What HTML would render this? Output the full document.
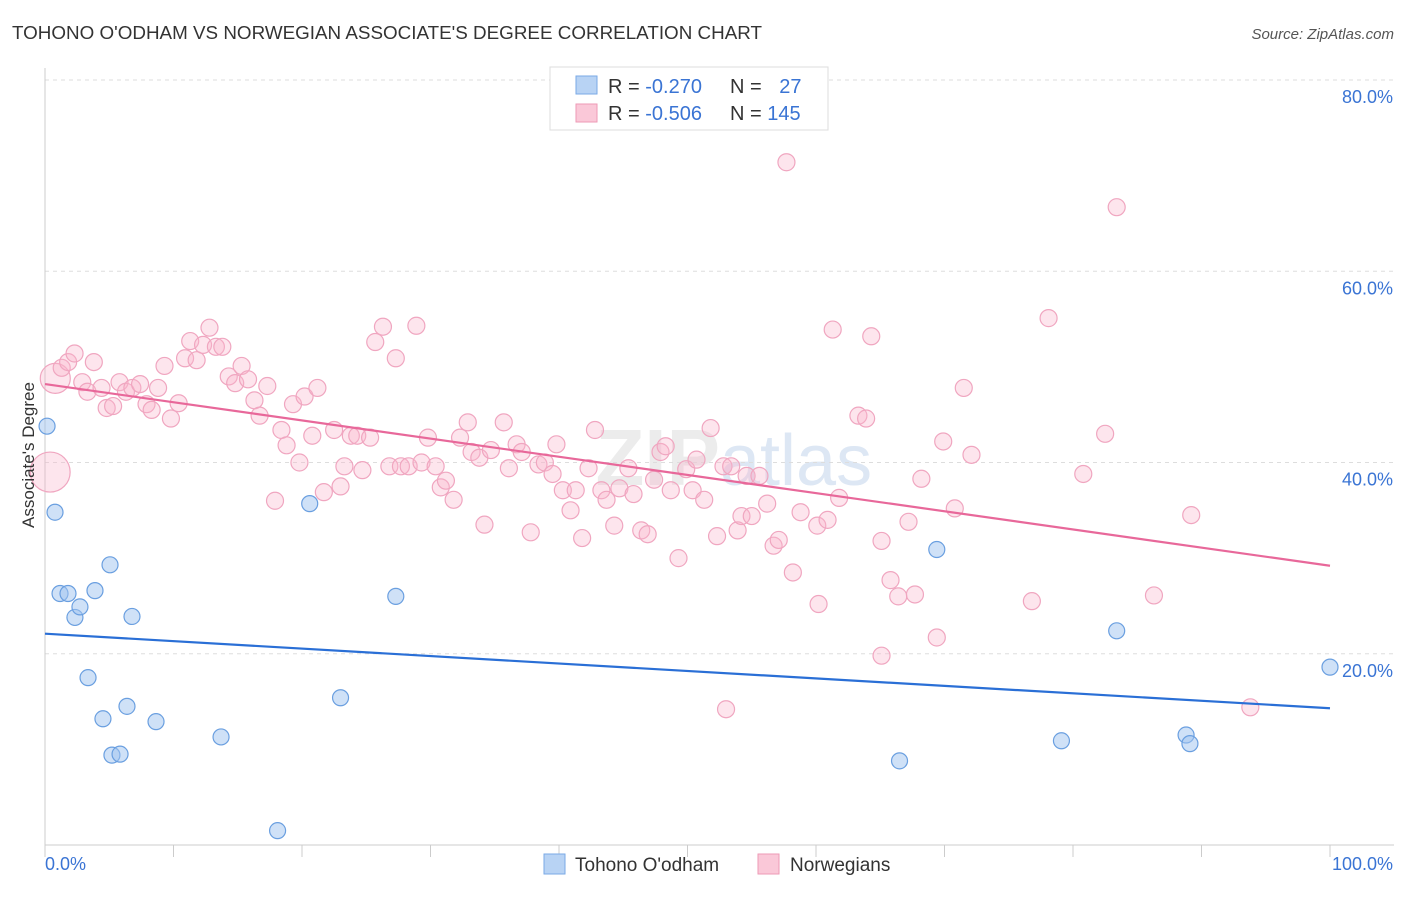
<!DOCTYPE html>
<html><head><meta charset="utf-8"><style>
body{margin:0;background:#fff;font-family:"Liberation Sans",sans-serif;}
svg text{font-family:"Liberation Sans",sans-serif;}
</style></head><body>
<svg id="chart" width="1406" height="892">
<text x="12" y="39" font-size="18" fill="#333" textLength="750" lengthAdjust="spacingAndGlyphs">TOHONO O'ODHAM VS NORWEGIAN ASSOCIATE'S DEGREE CORRELATION CHART</text>
<text x="1394" y="39" font-size="15" fill="#555" font-style="italic" text-anchor="end">Source: ZipAtlas.com</text>
<text x="720" y="485" font-size="80" font-weight="bold" fill="#ececec" text-anchor="end">ZIP</text>
<text x="720" y="485" font-size="72" fill="#dde7f4">atlas</text>
<g id="grid"></g>
<g id="axes"></g>
<g id="pts"></g>
<g id="lines"></g>
<text transform="translate(34,455) rotate(-90)" font-size="17" fill="#333" text-anchor="middle">Associate's Degree</text>
<g>
<rect x="550" y="67" width="278" height="63" fill="#fff" stroke="#ddd"/>
<rect x="576" y="76" width="21" height="18" fill="#b8d3f4" stroke="#7aaae6"/>
<rect x="576" y="104" width="21" height="18" fill="#fac8d8" stroke="#ee9ab6"/>
<text x="608" y="93" font-size="20" fill="#333">R = <tspan fill="#3a74d4">-0.270</tspan></text>
<text x="730" y="93" font-size="20" fill="#333">N = <tspan fill="#3a74d4" dx="12">27</tspan></text>
<text x="608" y="120" font-size="20" fill="#333">R = <tspan fill="#3a74d4">-0.506</tspan></text>
<text x="730" y="120" font-size="20" fill="#333">N = <tspan fill="#3a74d4">145</tspan></text>
</g>
<g>
<rect x="544" y="854" width="21" height="20" fill="#b8d3f4" stroke="#7aaae6"/>
<text x="575" y="871" font-size="19" fill="#333">Tohono O'odham</text>
<rect x="758" y="854" width="21" height="20" fill="#fac8d8" stroke="#ee9ab6"/>
<text x="790" y="871" font-size="19" fill="#333">Norwegians</text>
</g>
</svg>
<script>
const yTicks=[20,40,60,80];
const yTickLabels=["20.0%","40.0%","60.0%","80.0%"];
const xTickLabels=["0.0%","100.0%"];
const blueX=[0.16,0.78,1.17,1.79,2.33,2.72,3.89,5.06,6.77,3.35,4.51,6.38,8.64,5.21,5.84,13.7,20.6,23.0,27.3,18.1,69.4,66.5,79.1,83.4,88.8,89.1,100];
const blueY=[43.8,34.8,26.3,26.3,23.8,24.9,26.6,29.3,23.9,17.5,13.2,14.5,12.9,9.4,9.5,11.3,35.7,15.4,26.0,1.5,30.9,8.8,10.9,22.4,11.5,10.6,18.6];
const pinkX=[0.4,0.8,1.3,1.8,2.3,2.9,3.3,3.8,4.4,4.8,5.3,5.8,6.3,6.8,7.4,7.9,8.3,8.8,9.3,9.8,10.4,10.9,11.3,11.8,12.3,12.8,13.3,13.8,14.3,14.8,15.3,15.8,16.3,16.7,17.3,17.9,18.4,18.8,19.3,19.8,20.2,20.8,21.2,21.7,22.5,23.0,23.3,23.8,24.3,24.7,25.3,25.7,26.3,26.8,27.3,27.7,28.3,28.9,29.3,29.8,30.4,30.8,31.2,31.8,32.3,32.9,33.2,33.8,34.2,34.7,35.7,36.1,36.7,37.1,37.8,38.4,38.9,39.5,39.8,40.3,40.9,41.3,41.8,42.3,42.8,43.3,43.7,44.3,44.7,45.4,45.8,46.4,46.9,47.4,47.9,48.3,48.7,49.3,49.9,50.4,50.7,51.3,51.8,52.3,52.8,53.4,53.9,54.2,54.6,55.0,55.6,56.2,56.7,57.1,57.7,58.2,58.8,60.2,60.1,60.9,61.8,61.3,63.3,63.9,64.3,65.1,65.1,65.8,66.4,67.2,67.7,68.2,69.4,69.9,70.8,71.5,72.1,53.0,78.1,76.8,80.8,82.5,83.4,86.3,89.2,93.8];
const pinkY=[39.0,48.8,49.9,50.5,51.4,48.4,47.4,50.5,47.8,45.7,45.9,48.4,47.4,47.8,48.2,46.1,45.5,47.8,50.1,44.6,46.2,50.9,52.7,50.7,52.3,54.1,52.1,52.1,49.0,48.3,50.1,48.7,46.5,44.9,48.0,36.0,43.4,41.8,46.1,40.0,46.9,42.8,47.8,36.9,43.4,37.5,39.6,42.8,42.8,39.2,42.6,52.6,54.2,39.6,50.9,39.6,39.6,54.3,40.0,42.6,39.6,37.4,38.1,36.1,42.6,44.2,41.1,40.5,33.5,41.3,44.2,39.4,41.9,41.1,32.7,39.8,40.0,38.8,41.9,37.1,35.0,37.1,32.1,39.4,43.4,37.1,36.1,33.4,37.3,39.4,36.7,32.9,32.5,38.2,41.1,41.7,37.1,30.0,39.3,37.1,40.3,36.1,43.6,32.3,39.6,39.6,32.9,34.4,38.6,34.4,38.6,35.7,31.3,31.9,71.4,28.5,34.8,25.2,33.4,34.0,36.3,53.9,44.9,44.6,53.2,19.8,31.8,27.7,26.0,33.8,26.2,38.3,21.7,42.2,35.2,47.8,40.8,14.2,55.1,25.5,38.8,43.0,66.7,26.1,34.5,14.4];
const blueTrend=[22.1,14.3];
const pinkTrend=[48.2,29.2];

const NS="http://www.w3.org/2000/svg";
const X0=45,X1=1330,Y0=845,Y80=80;
const sx=v=>X0+(X1-X0)*v/100;
const sy=v=>Y0-(Y0-Y80)*v/80;
function mk(tag,attrs,parent){const e=document.createElementNS(NS,tag);for(const k in attrs)e.setAttribute(k,attrs[k]);document.getElementById(parent).appendChild(e);return e;}

yTicks.forEach((t,i)=>{
  const g=mk('line',{x1:X0,x2:1394,y1:sy(t),y2:sy(t),stroke:'#ddd','stroke-dasharray':'4,4'},'grid');
  
  
  const l=mk('text',{x:1393,y:sy(t)+23,'font-size':18,fill:'#3a74d4','text-anchor':'end'},'grid');
  l.textContent=yTickLabels[i];
  
  
});
const ax=mk('line',{x1:X0,x2:1394,y1:Y0,y2:Y0,stroke:'#ccc'},'axes');


const ay=mk('line',{x1:X0,x2:X0,y1:68,y2:Y0,stroke:'#ccc'},'axes');


for(let i=0;i<=10;i++){
  const t=mk('line',{x1:sx(i*10),x2:sx(i*10),y1:Y0,y2:Y0+12,stroke:'#ccc'},'axes');
  
  
}
const xl0=mk('text',{x:45,y:870,'font-size':18,fill:'#3a74d4'},'axes');
xl0.textContent=xTickLabels[0];


const xl1=mk('text',{x:1393,y:870,'font-size':18,fill:'#3a74d4','text-anchor':'end'},'axes');
xl1.textContent=xTickLabels[1];



pinkX.forEach((x,i)=>{
  const r=i===0?20:(i===1?15:8.5);
  const c=mk('circle',{cx:sx(x),cy:sy(pinkY[i]),r:r,fill:'rgba(248,180,204,0.35)',stroke:'#f0a6c0','stroke-width':1.2},'pts');
  
  
});
blueX.forEach((x,i)=>{
  const c=mk('circle',{cx:sx(x),cy:sy(blueY[i]),r:8,fill:'rgba(160,196,240,0.5)',stroke:'#6a9fe0','stroke-width':1.2},'pts');
  
  
});
const bl=mk('line',{x1:sx(0),y1:sy(blueTrend[0]),x2:sx(100),y2:sy(blueTrend[1]),stroke:'#2a6fd6','stroke-width':2.2},'lines');


const pl=mk('line',{x1:sx(0),y1:sy(pinkTrend[0]),x2:sx(100),y2:sy(pinkTrend[1]),stroke:'#e8689a','stroke-width':2.2},'lines');


</script>
</body></html>
